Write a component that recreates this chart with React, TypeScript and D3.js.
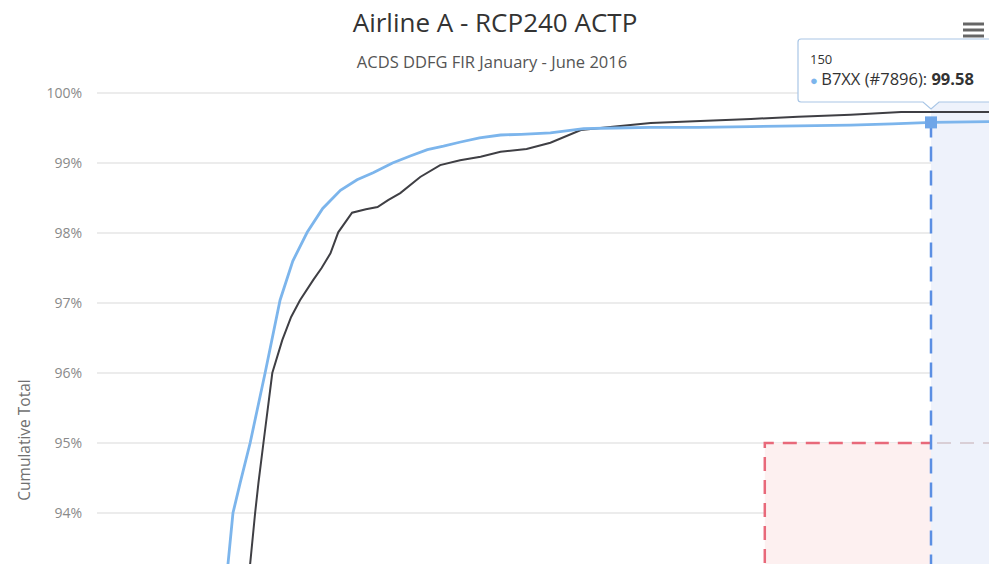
import { useEffect, useRef } from 'react'
import * as d3 from 'd3'

// B7XX series (seconds, cumulative %)
const blueSeconds = [23.1, 24.0, 25.3, 27.1, 29.8, 32.5, 34.8, 37.4, 40.2, 43.4, 46.4, 49.3, 52.8, 56.0, 59.1, 62.0, 65.1, 68.5, 72.3, 76.0, 81.3, 87.3, 93.0, 99.4, 108.0, 117.5, 126.0, 135.5, 143.0, 150.2, 160.7]
const blueValues = [93.27, 94.0, 94.43, 95.0, 96.0, 97.04, 97.6, 98.01, 98.35, 98.61, 98.76, 98.86, 99.0, 99.1, 99.19, 99.24, 99.3, 99.36, 99.4, 99.41, 99.43, 99.49, 99.5, 99.51, 99.51, 99.52, 99.53, 99.54, 99.56, 99.58, 99.59]

// Fleet series (seconds, cumulative %)
const blackSeconds = [27.1, 28.0, 28.6, 29.5, 31.1, 32.9, 34.5, 36.1, 38.5, 40.0, 41.6, 43.0, 45.5, 48.0, 50.1, 52.0, 54.2, 57.8, 61.4, 65.0, 68.7, 72.3, 77.0, 81.3, 86.8, 93.0, 99.4, 108.4, 117.5, 126.0, 135.5, 144.6, 160.7]
const blackValues = [93.27, 94.0, 94.43, 95.0, 96.0, 96.47, 96.8, 97.04, 97.33, 97.5, 97.71, 98.01, 98.29, 98.34, 98.37, 98.47, 98.57, 98.8, 98.97, 99.04, 99.09, 99.16, 99.2, 99.29, 99.47, 99.52, 99.57, 99.6, 99.63, 99.66, 99.69, 99.73, 99.73]

const yTicks = [94, 95, 96, 97, 98, 99, 100]
const limit95Seconds = 120
const limit999Seconds = 150
const tooltipValue = 99.58

export default function App() {
  const ref = useRef<SVGSVGElement>(null)

  useEffect(() => {
    if (!ref.current) return
    const svg = d3.select(ref.current)
    svg.selectAll('*').remove()

    const width = 989
    const height = 564
    const font = 'Open Sans, sans-serif'
    const plot = { left: 100, top: 93, right: 989, bottom: 793 }

    const x = d3.scaleLinear().domain([0, 150]).range([plot.left, 931])
    const y = d3.scaleLinear().domain([90, 100]).range([plot.bottom, plot.top])

    svg.append('rect').attr('width', width).attr('height', height).attr('fill', '#fff')

    svg.append('defs').append('clipPath').attr('id', 'plotclip')
      .append('rect')
      .attr('x', plot.left).attr('y', plot.top - 10)
      .attr('width', plot.right - plot.left).attr('height', plot.bottom - plot.top + 10)

    // Grid
    svg.append('g').selectAll('line')
      .data(yTicks)
      .enter().append('line')
      .attr('x1', plot.left - 3).attr('x2', plot.right)
      .attr('y1', d => y(d)).attr('y2', d => y(d))
      .attr('stroke', '#e6e6e6').attr('stroke-width', 1.3)

    // Y labels
    svg.append('g').selectAll('text')
      .data(yTicks)
      .enter().append('text')
      .attr('x', 82).attr('y', d => y(d) + 5)
      .attr('text-anchor', 'end')
      .attr('font-family', font)
      .attr('font-size', 14)
      .attr('fill', '#8a8a8a')
      .text(d => d + '%')

    svg.append('text')
      .attr('transform', 'translate(30,440) rotate(-90)')
      .attr('text-anchor', 'middle')
      .attr('font-family', font)
      .attr('font-size', 15.5)
      .attr('fill', '#707070')
      .text('Cumulative Total')

    const g = svg.append('g').attr('clip-path', 'url(#plotclip)')

    // Requirement zones
    g.append('rect')
      .attr('x', x(limit95Seconds)).attr('y', y(95))
      .attr('width', x(limit999Seconds) - x(limit95Seconds))
      .attr('height', plot.bottom - y(95))
      .attr('fill', '#fdf0f0')
    g.append('rect')
      .attr('x', x(limit999Seconds)).attr('y', plot.top)
      .attr('width', plot.right - x(limit999Seconds))
      .attr('height', plot.bottom - plot.top)
      .attr('fill', '#eef2fb')

    g.append('path')
      .attr('d', `M${x(limit95Seconds)},${plot.bottom}V${y(95)}H${x(limit999Seconds)}`)
      .attr('fill', 'none')
      .attr('stroke', '#e8697a').attr('stroke-width', 2.5)
      .attr('stroke-dasharray', '14,9')
    g.append('line')
      .attr('x1', x(limit999Seconds) + 6).attr('x2', plot.right)
      .attr('y1', y(95)).attr('y2', y(95))
      .attr('stroke', '#d9cfd6').attr('stroke-width', 2)
      .attr('stroke-dasharray', '14,9')

    const line = d3.line<[number, number]>()
      .x(d => x(d[0]))
      .y(d => y(d[1]))

    g.append('path')
      .datum(blackSeconds.map((s, i) => [s, blackValues[i]] as [number, number]))
      .attr('d', line)
      .attr('fill', 'none')
      .attr('stroke', '#3f3f44')
      .attr('stroke-width', 2)

    g.append('path')
      .datum(blueSeconds.map((s, i) => [s, blueValues[i]] as [number, number]))
      .attr('d', line)
      .attr('fill', 'none')
      .attr('stroke', '#7cb5ec')
      .attr('stroke-width', 2.8)

    // 99.9% line
    g.append('line')
      .attr('x1', x(limit999Seconds)).attr('x2', x(limit999Seconds))
      .attr('y1', y(tooltipValue)).attr('y2', plot.bottom)
      .attr('stroke', '#5b8fe3').attr('stroke-width', 2.5)
      .attr('stroke-dasharray', '15,9')

    // hover marker
    svg.append('rect')
      .attr('x', x(limit999Seconds) - 6).attr('y', y(tooltipValue) - 6)
      .attr('width', 12).attr('height', 12)
      .attr('fill', '#6fa6e8')

    // Tooltip
    const tx = 798, ty = 39, th = 63
    const px = x(limit999Seconds)
    const tip = svg.append('g')
    tip.append('path')
      .attr('d', `M${tx + 3},${ty}H${width + 20}V${ty + th}H${px + 8}L${px},${ty + th + 7}L${px - 8},${ty + th}H${tx + 3}Q${tx},${ty + th} ${tx},${ty + th - 3}V${ty + 3}Q${tx},${ty} ${tx + 3},${ty}Z`)
      .attr('fill', 'rgba(255,255,255,0.96)')
      .attr('stroke', '#a9c6e6').attr('stroke-width', 1.2)
    tip.append('text')
      .attr('x', 810).attr('y', 64)
      .attr('font-family', font)
      .attr('font-size', 13).attr('fill', '#333')
      .text('150')
    const t2 = tip.append('text')
      .attr('x', 810).attr('y', 85)
      .attr('font-family', font)
      .attr('font-size', 16.5).attr('fill', '#333')
    t2.append('tspan').attr('fill', '#7cb5ec').attr('font-size', 13).text('● ')
    t2.append('tspan').text('B7XX (#7896): ')
    t2.append('tspan').attr('font-weight', 'bold').text(String(tooltipValue))

    // Titles
    svg.append('text')
      .attr('x', 495).attr('y', 32)
      .attr('text-anchor', 'middle')
      .attr('font-family', font)
      .attr('font-size', 26).attr('fill', '#333')
      .text('Airline A - RCP240 ACTP')
    svg.append('text')
      .attr('x', 492).attr('y', 68)
      .attr('text-anchor', 'middle')
      .attr('font-family', font)
      .attr('font-size', 16.5).attr('fill', '#555')
      .text('ACDS DDFG FIR January - June 2016')

    // Menu icon
    svg.append('g').selectAll('line')
      .data([24, 30, 36])
      .enter().append('line')
      .attr('x1', 963).attr('x2', 984)
      .attr('y1', d => d).attr('y2', d => d)
      .attr('stroke', '#666').attr('stroke-width', 3)
  }, [])

  return (
    <div style={{ position: 'absolute', left: 0, top: 0 }}>
      <svg ref={ref} width={989} height={564} style={{ display: 'block' }} />
    </div>
  )
}
